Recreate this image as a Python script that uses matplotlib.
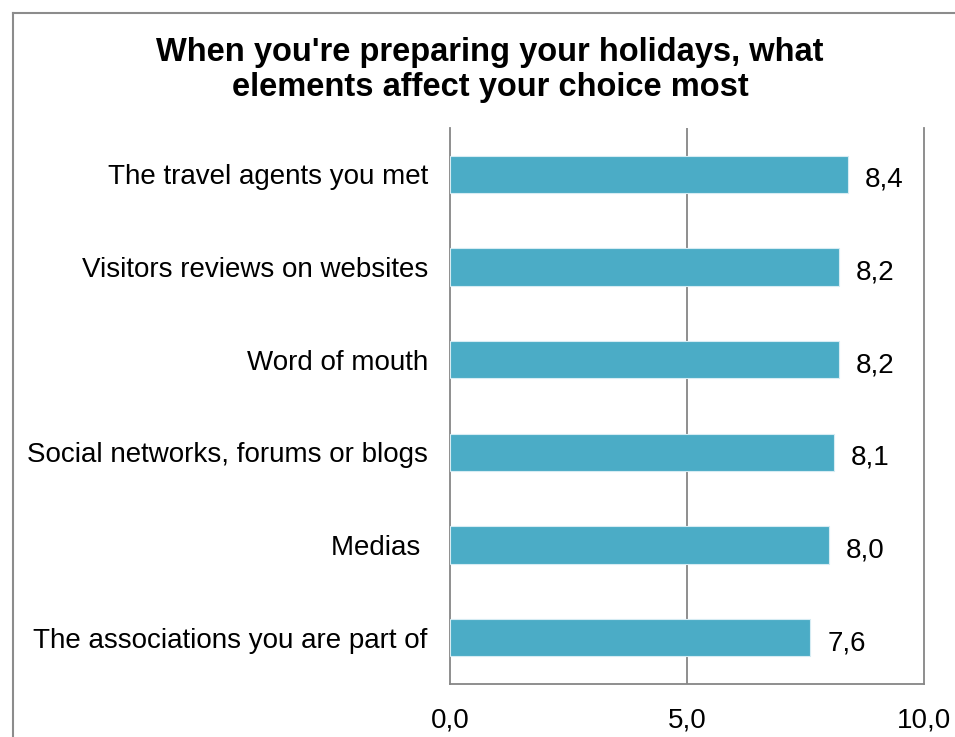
import matplotlib.pyplot as plt
from matplotlib.lines import Line2D

plt.rcParams['font.family'] = ['Liberation Sans', 'DejaVu Sans']

categories = ['The travel agents you met', 'Visitors reviews on websites', 'Word of mouth',
              'Social networks, forums or blogs', 'Medias ', 'The associations you are part of']
scores = [8.4, 8.2, 8.2, 8.1, 8.0, 7.6]
xticks = [0, 5, 10]
xtick_labels = ['0,0', '5,0', '10,0']

bar_color = '#4BACC6'
grid_color = '#868686'

fig = plt.figure(figsize=(9.55, 7.37), dpi=100)
ax = fig.add_axes([0.4712, 0.0719, 0.4963, 0.7544])

ypos = list(range(len(categories)))[::-1]
ax.barh(ypos, scores, height=0.4, color=bar_color, edgecolor='#d6ecf3', linewidth=0.8, zorder=3)

# value labels sit a touch below the bar centre
for y, v in zip(ypos, scores):
    ax.text(v + 0.36, y - 0.06, f'{v:.1f}'.replace('.', ','), va='center', ha='left', fontsize=20)

ax.set_xlim(0, 10)
ax.set_ylim(-0.5, len(categories) - 0.5)
ax.set_xticks(xticks)
ax.set_xticklabels(xtick_labels, fontsize=20)
ax.set_yticks(ypos)
ax.set_yticklabels(categories, fontsize=20)
ax.tick_params(axis='x', length=0, pad=17)
ax.tick_params(axis='y', length=0, pad=16)

ax.axvline(5, color=grid_color, linewidth=1.3, zorder=1)
ax.spines['top'].set_visible(False)
for s in ['left', 'right', 'bottom']:
    ax.spines[s].set_color(grid_color)
    ax.spines[s].set_linewidth(1.3)

fig.text(0.513, 0.905, "When you're preparing your holidays, what\nelements affect your choice most",
         ha='center', va='center', fontsize=23.5, fontweight='bold', linespacing=1.13)

# outer chart frame
fig.add_artist(Line2D([0.0135, 0.0135], [0.0, 0.983], color='#8c8c8c', linewidth=1.5, transform=fig.transFigure))
fig.add_artist(Line2D([0.0135, 1.0], [0.983, 0.983], color='#8c8c8c', linewidth=1.5, transform=fig.transFigure))

fig.savefig('out.png', dpi=100)
